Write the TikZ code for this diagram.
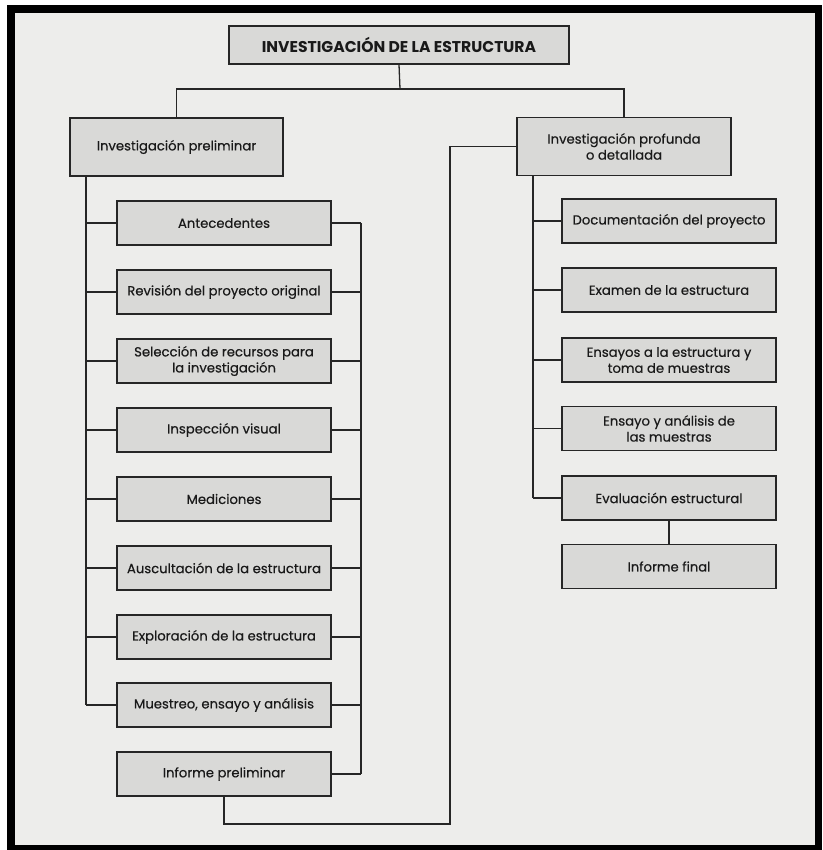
\documentclass[tikz,border=0pt]{standalone}
\usepackage{fontspec}
\setmainfont{Poppins}
\begin{document}
\begin{tikzpicture}[x=1pt,y=-1pt,
  line/.style={draw=black!85, line width=1.3pt},
  box/.style={draw=black!85, line width=1.4pt, fill=boxgray, minimum width=214pt,
    minimum height=44pt, align=center, inner sep=2pt,
    font=\fontsize{13.2}{16}\selectfont\addfontfeature{FakeBold=0.4}, text=black!90},
  tallbox/.style={box, minimum height=58pt},
  titlebox/.style={box, minimum width=340pt, minimum height=38pt,
    font=\fontsize{15.6}{18}\selectfont\bfseries}]
\definecolor{boxgray}{HTML}{D9D9D7}
\definecolor{paper}{HTML}{EDEDEB}
% page frame
\useasboundingbox (0,0) rectangle (822,850);
\fill[white] (0,0) rectangle (822,850);
\fill[black] (7,5) rectangle (822,850);
\fill[paper] (15,13) rectangle (815,845);

% top level
\node[titlebox] (top) at (399,45) {INVESTIGACIÓN DE LA ESTRUCTURA};
\node[tallbox, minimum width=213pt] (pre) at (176.5,147) {Investigación preliminar};
\node[tallbox] (deep) at (624,146.5) {Investigación profunda\\o detallada};

% left column
\node[box] (l1) at (224,223) {Antecedentes};
\node[box] (l2) at (224,292) {Revisión del proyecto original};
\node[box] (l3) at (224,361) {Selección de recursos para\\la investigación};
\node[box] (l4) at (224,430) {Inspección visual};
\node[box] (l5) at (224,499) {Mediciones};
\node[box] (l6) at (224,568) {Auscultación de la estructura};
\node[box] (l7) at (224,637) {Exploración de la estructura};
\node[box] (l8) at (224,705) {Muestreo, ensayo y análisis};
\node[box] (l9) at (224,774) {Informe preliminar};

% right column
\node[box] (r1) at (669,221) {Documentación del proyecto};
\node[box] (r2) at (669,290) {Examen de la estructura};
\node[box] (r3) at (669,360) {Ensayos a la estructura y\\toma de muestras};
\node[box] (r4) at (669,428.5) {Ensayo y análisis de\\las muestras};
\node[box] (r5) at (669,498) {Evaluación estructural};
\node[box] (r6) at (669,566.5) {Informe final};

% junction points
\coordinate (bus) at (400,89);
\coordinate (lsp) at (86,0);
\coordinate (rsp) at (361,0);
\coordinate (dsp) at (533,0);
\coordinate (lnk) at (450,824);

% title to the two branches
\draw[line] (top.south) -- (bus);
\draw[line] (pre.north) |- (bus) -| (deep.north);

% preliminary branch: left spine
\draw[line] (pre.south -| lsp) -- (l8.west -| lsp);
\foreach \n in {l1,l2,l3,l4,l5,l6,l7,l8}
  \draw[line] (\n.west) -- (\n.west -| lsp);
% right spine
\draw[line] (l1.east -| rsp) -- (l9.east -| rsp);
\foreach \n in {l1,l2,l3,l4,l5,l6,l7,l8,l9}
  \draw[line] (\n.east) -- (\n.east -| rsp);

% preliminary report leads into the detailed investigation
\draw[line] (l9.south) |- (lnk) |- (deep.west);

% detailed branch
\draw[line] (deep.south -| dsp) -- (r5.west -| dsp);
\foreach \n in {r1,r2,r3,r4,r5}
  \draw[line] (\n.west) -- (\n.west -| dsp);
\draw[line] (r5.south) -- (r6.north);
\end{tikzpicture}
\end{document}
